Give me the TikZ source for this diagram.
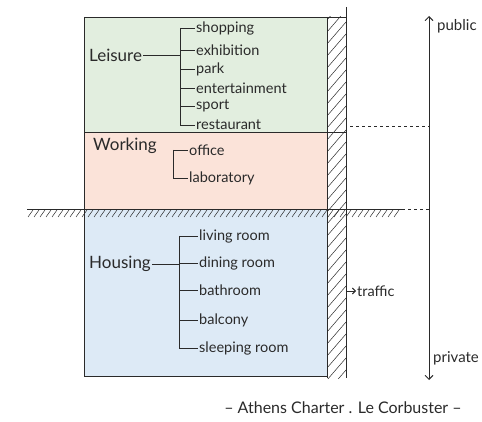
\documentclass[tikz,border=0pt]{standalone}
\usepackage{fontspec}
\setmainfont{Lato}
\usetikzlibrary{arrows.meta}
\definecolor{leisurecol}{HTML}{E2EEDF}
\definecolor{workcol}{HTML}{FBE3D9}
\definecolor{housecol}{HTML}{DDEAF6}
\definecolor{ink}{HTML}{2A2A2A}
\tikzset{
  pen/.style={draw=ink, line width=0.9pt},
  item/.style={anchor=west, inner sep=1pt, text=ink, font=\fontsize{14.5}{16}\selectfont},
  zonelabel/.style={anchor=west, inner sep=1pt, text=ink, font=\fontsize{17}{19}\selectfont},
  side/.style={anchor=west, inner sep=1pt, text=ink, font=\fontsize{15}{17}\selectfont},
  hatch/.style={draw=ink, line width=0.5pt}
}
\begin{document}
\begin{tikzpicture}[x=1pt,y=-1pt]
\useasboundingbox (0,0) rectangle (482,422);
% zone fills
\fill[leisurecol] (84,17) rectangle (327,132);
\fill[workcol] (84,132) rectangle (327,209);
\fill[housecol] (84,209) rectangle (327,376);
% outlines
\draw[pen] (84,17) -- (346,17);
\draw[pen] (84,17) -- (84,376) -- (327,376);
\draw[pen] (84,132) -- (346,132);
\draw[pen] (327,17) -- (327,378);
\draw[pen] (346,7) -- (346,378);
% hatched column
\begin{scope}
\clip (327,17) rectangle (346,378);
\foreach \y in {20,32,...,400} \draw[hatch] (327,\y) -- (346,\y-22);
\end{scope}
% ground line
\draw[pen] (27,209) -- (402,209);
\foreach \x in {28,34,...,398} \draw[hatch] (\x,217) -- (\x+5,210);
\draw[pen, dashed] (402,209) -- (429,209);
\draw[pen, dashed] (350,126) -- (429,126);
% public / private arrow
\draw[pen, {Straight Barb[length=4pt]}-{Straight Barb[length=4pt]}] (429,16) -- (429,380);
\node[side] (pub) at (436,26) {public};
\node[side] (priv) at (432,358) {private};
% traffic
\node[item] (traffic) at (356,291) {traffic};
\coordinate (tr) at (346,291);
\draw[pen, -{Straight Barb[length=3pt]}] (tr) -- (traffic.west);

% Leisure
\node[zonelabel] (leis) at (88,55) {Leisure};
\coordinate (lb) at (180,28);
\node[item] (shop) at (195,28) {shopping};
\node[item] (exhi) at (195,50) {exhibition};
\node[item] (park) at (195,69) {park};
\node[item] (ente) at (195,88) {entertainment};
\node[item] (spor) at (195,106) {sport};
\node[item] (rest) at (195,125) {restaurant};
\draw[pen] (shop.west -| lb) -- (rest.west -| lb);
\foreach \n in {shop,exhi,park,ente,spor,rest} \draw[pen] (\n.west -| lb) -- (\n.west);
\draw[pen] (leis.east) -- (leis.east -| lb);

% Working
\node[zonelabel] (work) at (92,146) {Working};
\coordinate (wb) at (173,150);
\node[item] (offi) at (188,150) {office};
\node[item] (labo) at (188,178) {laboratory};
\draw[pen] (offi.west -| wb) -- (labo.west -| wb);
\foreach \n in {offi,labo} \draw[pen] (\n.west -| wb) -- (\n.west);

% Housing
\node[zonelabel] (hous) at (88,264) {Housing};
\coordinate (hb) at (179,236);
\node[item] (livi) at (198,236) {living room};
\node[item] (dini) at (198,263) {dining room};
\node[item] (bath) at (198,290) {bathroom};
\node[item] (balc) at (198,320) {balcony};
\node[item] (slee) at (198,348) {sleeping room};
\draw[pen] (livi.west -| hb) -- (slee.west -| hb);
\foreach \n in {livi,dini,bath,balc,slee} \draw[pen] (\n.west -| hb) -- (\n.west);
\draw[pen] (hous.east) -- (hous.east -| hb);

% caption
\node[text=ink, font=\fontsize{16}{18}\selectfont] (cap) at (343,408) {– Athens Charter . Le Corbuster –};
\end{tikzpicture}
\end{document}
